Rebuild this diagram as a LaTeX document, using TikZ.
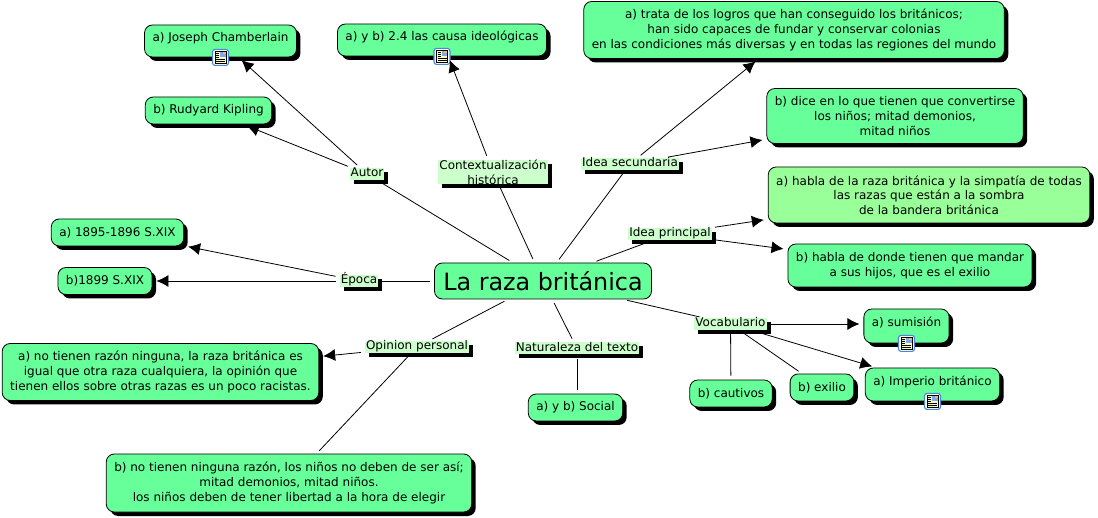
\documentclass[tikz,border=0pt]{standalone}
\usepackage{fontspec}
\setmainfont{DejaVu Sans}
\definecolor{CmapGreen}{HTML}{66FF99}
\definecolor{CmapPale}{HTML}{99FF99}
\definecolor{CmapLabel}{HTML}{CCFFCC}
\definecolor{CmapFrame}{HTML}{4A86D8}
\usetikzlibrary{arrows.meta,positioning,shadows}
\begin{document}
\begin{tikzpicture}[x=1pt,y=1pt,on grid,>={Latex[length=12pt,width=12pt]},
  concept/.style={draw,line width=.8pt,fill=CmapGreen,rounded corners=8pt,align=center,inner xsep=8pt,inner ysep=2pt,minimum height=27pt,
    font=\fontsize{12}{14.7}\selectfont,drop shadow={shadow xshift=4pt,shadow yshift=-4pt,opacity=1,fill=black}},
  withicon/.style={minimum height=32pt,text height=9pt,text depth=7pt},
  relation/.style={fill=CmapLabel,inner xsep=1pt,inner ysep=0pt,text height=9pt,text depth=3pt,align=center,
    font=\fontsize{12}{14.7}\selectfont,drop shadow={shadow xshift=4pt,shadow yshift=-4pt,opacity=1,fill=black}},
  link/.style={line width=.8pt,shorten <=4pt,shorten >=4pt},
  docicon/.pic={
    \draw[draw=CmapFrame,fill=white,line width=1.1pt,rounded corners=2.5pt] (-8,-8) rectangle (8,8);
    \draw[fill=yellow!25,line width=.6pt] (-5.5,-6) rectangle (5.5,6);
    \fill[CmapFrame!70] (-.5,.5) rectangle (5,5.5);\fill[orange!60] (2,3) rectangle (5,5.5);
    \foreach \ly in {-4,-2}{\draw[line width=.6pt] (-4.5,\ly) -- (4.5,\ly);}
    \foreach \ly in {0,2,4}{\draw[line width=.6pt] (-4.5,\ly) -- (-1.5,\ly);}
  }]
  \useasboundingbox (0,0) rectangle (1098,517);
  \node[draw,line width=.8pt,fill=CmapGreen,rounded corners=8pt,minimum width=217pt,minimum height=36pt,font=\fontsize{23.8}{28}\selectfont] (main) at (543,236) {La raza británica};
  % enlaces
  \node[relation,above left=107pt and 176pt of main] (autor) {Autor};
  \node[relation,text height=,text depth=,above left=109pt and 50pt of main] (contexto) {Contextualización\\histórica};
  \node[relation,above right=117pt and 87pt of main] (ideasec) {Idea secundaria};
  \node[relation,above right=47pt and 127pt of main] (ideaprin) {Idea principal};
  \node[relation,left=184pt of main] (epoca) {Época};
  \node[relation,below left=66pt and 126pt of main] (opinion) {Opinion personal};
  \node[relation,below right=67.5pt and 34pt of main] (naturaleza) {Naturaleza del texto};
  \node[relation,below right=43pt and 187.5pt of main] (vocab) {Vocabulario};
  % conceptos
  \node[concept,withicon,above left=133pt and 146.5pt of autor] (joseph) {a) Joseph Chamberlain};
  \node[concept,above left=63.5pt and 158.5pt of autor] (rudyard) {b) Rudyard Kipling};
  \node[concept,withicon,above left=132pt and 51pt of contexto] (causas) {a) y b) 2.4 las causa ideológicas};
  \node[concept,minimum height=57pt,above right=134pt and 164pt of ideasec] (trata) {a) trata de los logros que han conseguido los británicos;\\han sido capaces de fundar y conservar colonias\\en las condiciones más diversas y en todas las regiones del mundo};
  \node[concept,minimum height=55pt,above right=48pt and 265pt of ideasec] (dice) {b) dice en lo que tienen que convertirse\\los niños; mitad demonios,\\mitad niños};
  \node[concept,fill=CmapPale,minimum height=56pt,above right=39pt and 259pt of ideaprin] (simpatia) {a) habla de la raza británica y la simpatía de todas\\las razas que están a la sombra\\de la bandera británica};
  \node[concept,minimum height=43pt,below right=31.5pt and 240pt of ideaprin] (exilioidea) {b) habla de donde tienen que mandar\\a sus hijos, que es el exilio};
  \node[concept,above left=48.5pt and 241.5pt of epoca] (fechaa) {a) 1895-1896 S.XIX};
  \node[concept,left=254pt of epoca] (fechab) {b)1899 S.XIX};
  \node[concept,minimum height=57pt,below left=25pt and 256.5pt of opinion] (opina) {a) no tienen razón ninguna, la raza británica es\\igual que otra raza cualquiera, la opinión que\\tienen ellos sobre otras razas es un poco racistas.};
  \node[concept,minimum height=58pt,below left=136pt and 128pt of opinion] (opinb) {b) no tienen ninguna razón, los niños no deben de ser así;\\mitad demonios, mitad niños.\\los niños deben de tener libertad a la hora de elegir};
  \node[concept,below left=59pt and 1.5pt of naturaleza] (social) {a) y b) Social};
  \node[concept,withicon,minimum height=34pt,below right=2pt and 176pt of vocab] (sumision) {a) sumisión};
  \node[concept,withicon,minimum height=33pt,below right=60.5pt and 202pt of vocab] (imperio) {a) Imperio británico};
  \node[concept,below right=63.5pt and 91.5pt of vocab] (exilio) {b) exilio};
  \node[concept,below right=69.5pt and .5pt of vocab] (cautivos) {b) cautivos};
  % iconos
  \pic at (joseph.south) {docicon};
  \pic at (causas.south) {docicon};
  \pic at (sumision.south) {docicon};
  \pic at (imperio.south) {docicon};
  % conectores
  \draw[link] (main)--(autor);\draw[link] (main)--(contexto);\draw[link] (main)--(ideasec);\draw[link] (main)--(ideaprin);
  \draw[link] (main)--(epoca);\draw[link] (main)--(opinion);\draw[link] (main)--(naturaleza);\draw[link] (main)--(vocab);
  \draw[->,link] (autor)--(joseph);\draw[->,link] (autor)--(rudyard);
  \draw[->,link] (contexto)--(causas);
  \draw[->,link] (ideasec)--(trata);\draw[->,link] (ideasec)--(dice);
  \draw[->,link] (ideaprin)--(simpatia);\draw[->,link] (ideaprin)--(exilioidea);
  \draw[->,link] (epoca)--(fechaa);\draw[->,link] (epoca)--(fechab);
  \draw[->,link] (opinion)--(opina);\draw[link] (opinion)--(opinb);
  \draw[link] (naturaleza)--(naturaleza |- social.north);
  \draw[->,link] (vocab)--(vocab -| sumision.west);\draw[->,link] (vocab)--(imperio);
  \draw[link] (vocab)--(exilio);\draw[link] (vocab)--(cautivos);
\end{tikzpicture}
\end{document}
